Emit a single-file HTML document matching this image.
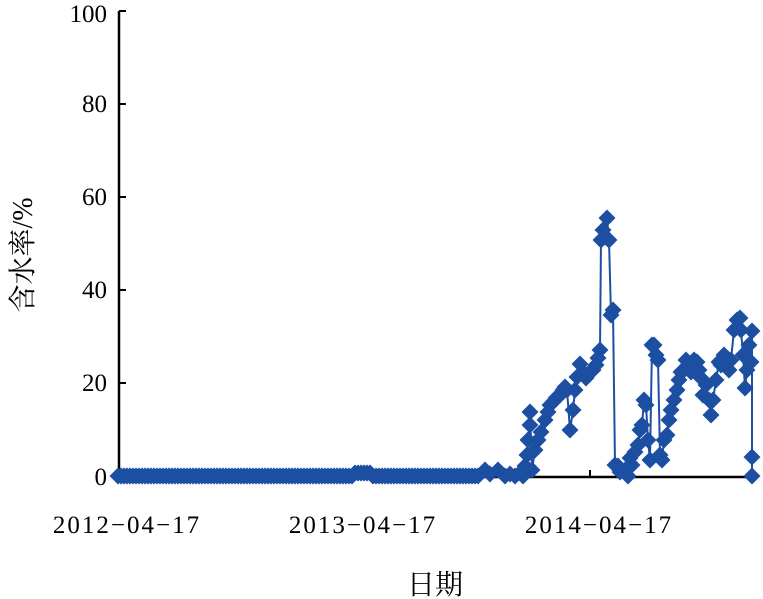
<!DOCTYPE html>
<html><head><meta charset="utf-8"><style>
html,body{margin:0;padding:0;background:#fff;}
svg{display:block;}
text{font-family:"Liberation Serif","Noto Serif CJK SC",serif;fill:#000;}
</style></head><body>
<svg width="763" height="599" viewBox="0 0 763 599" xmlns="http://www.w3.org/2000/svg">
<defs><path id="d" d="M0,-8.5 L8.5,0 L0,8.5 L-8.5,0 Z" fill="#1c4fa2"/></defs>
<g stroke="#000" stroke-width="2.5" fill="none">
<line x1="119" y1="11" x2="119" y2="477"/>
<line x1="119" y1="477" x2="752" y2="477"/>
</g>
<g stroke="#000" stroke-width="2">
<line x1="119" y1="11" x2="126" y2="11"/>
<line x1="119" y1="104" x2="126" y2="104"/>
<line x1="119" y1="197" x2="126" y2="197"/>
<line x1="119" y1="290" x2="126" y2="290"/>
<line x1="119" y1="383" x2="126" y2="383"/>
<line x1="355" y1="477" x2="355" y2="470"/>
<line x1="590" y1="477" x2="590" y2="470"/>
</g>
<g font-size="25" text-anchor="end">
<text x="107" y="22">100</text>
<text x="107" y="112">80</text>
<text x="107" y="205">60</text>
<text x="107" y="298">40</text>
<text x="107" y="391">20</text>
<text x="107" y="485">0</text>
</g>
<g font-size="25" text-anchor="middle" letter-spacing="2">
<text x="127" y="533">2012−04−17</text>
<text x="363" y="533">2013−04−17</text>
<text x="599" y="533">2014−04−17</text>
</g>
<g font-size="28" text-anchor="middle">
<text x="435" y="594">日期</text>
<text transform="translate(32,255) rotate(-90)">含水率/%</text>
</g>
<g id="series"></g>
</svg>
<script>
var pts=[];
for(var x=118;x<=480;x+=3){var y=476;if(x>=355&&x<=372)y=473;pts.push([x,y]);}
var more=[[485,470],[490,474],[498,470],[505,476],[510,474],[515,476],[520,473],[523,476],[525,466],[527,455],[528,440],[530,425],[530,412],[532,470],[535,450],[538,440],[541,432],[545,420],[548,412],[550,405],[553,402],[556,398],[560,395],[563,390],[565,387],[567,390],[570,430],[573,410],[575,390],[577,377],[580,364],[583,372],[586,378],[590,372],[593,370],[596,365],[598,358],[600,350],[601,240],[603,230],[605,237],[607,218],[609,240],[611,315],[613,310],[615,465],[618,466],[620,472],[625,470],[628,476],[630,458],[632,465],[635,452],[638,445],[640,430],[642,425],[644,400],[646,405],[648,440],[650,460],[652,345],[654,345],[656,355],[658,360],[660,455],[662,460],[664,440],[667,435],[669,420],[671,410],[674,400],[677,390],[679,380],[681,372],[684,370],[686,360],[688,365],[691,372],[694,360],[697,362],[699,370],[701,378],[703,395],[706,385],[709,400],[711,415],[713,400],[716,380],[719,362],[721,365],[724,355],[727,358],[729,370],[731,360],[734,330],[737,320],[740,318],[741,330],[743,355],[745,388],[747,370],[749,345],[751,362],[752,331],[752,476],[752,457]];
pts=pts.concat(more);
var ns="http://www.w3.org/2000/svg",g=document.getElementById("series");
var pl=document.createElementNS(ns,"polyline");
pl.setAttribute("points",pts.map(function(p){return p.join(",")}).join(" "));
pl.setAttribute("fill","none");pl.setAttribute("stroke","#1c4fa2");pl.setAttribute("stroke-width","2");
g.appendChild(pl);
pts.forEach(function(p){var u=document.createElementNS(ns,"use");u.setAttribute("href","#d");u.setAttribute("x",p[0]);u.setAttribute("y",p[1]);g.appendChild(u);});
</script>
</body></html>
